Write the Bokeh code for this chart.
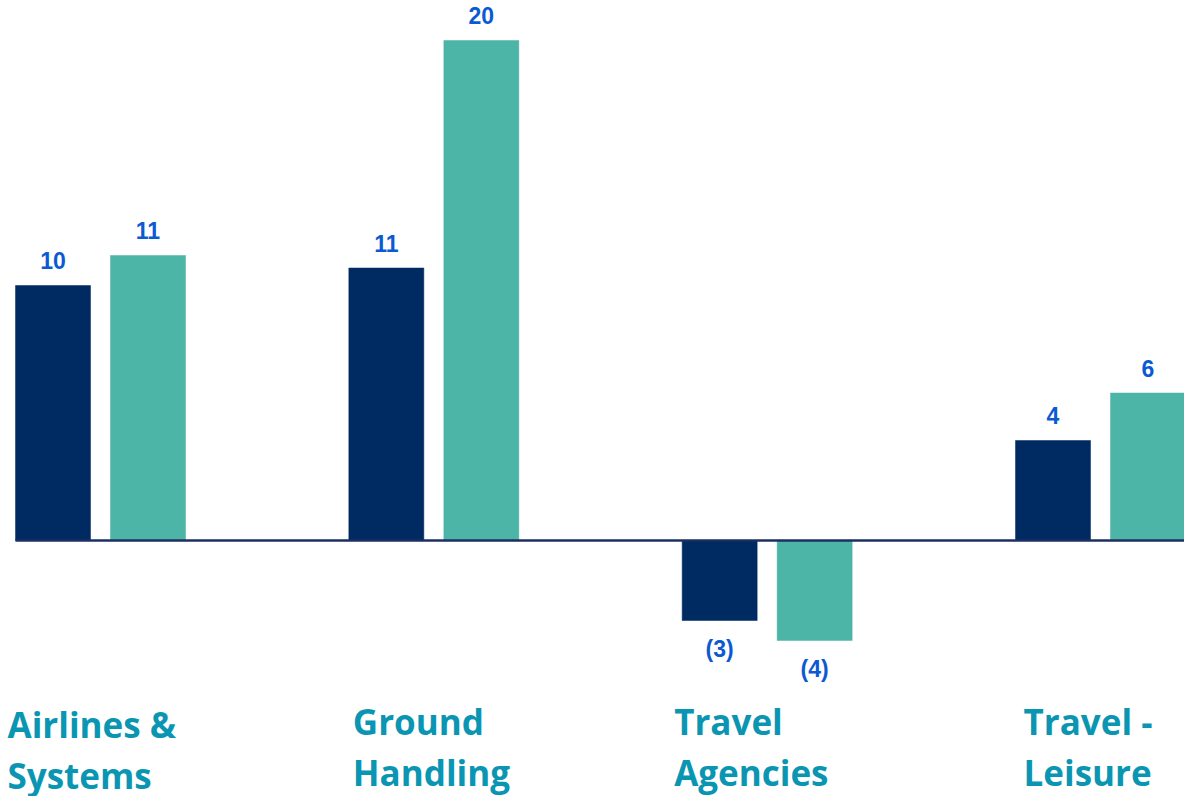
from bokeh.plotting import figure
from bokeh.models import Range1d, ColumnDataSource
from bokeh.core.properties import value
from bokeh.embed import file_html
from bokeh.resources import INLINE

# ---- data ----
categories = ["Airlines &\nSystems", "Ground\nHandling", "Travel\nAgencies", "Travel -\nLeisure"]
series1_values = [10.2, 10.9, -3.2, 4.0]
series2_values = [11.4, 20.0, -4.0, 5.9]
series1_labels = ["10", "11", "(3)", "4"]
series2_labels = ["11", "20", "(4)", "6"]

NAVY = "#002A62"
TEAL = "#4CB5A7"
LABEL_BLUE = "#0B5AD2"
CAT_TEAL = "#0A96B2"

idx = list(range(len(categories)))
bar_w = 0.225
off = 0.1425
cat_label_dx = [-3, 9, -3, 13]   # small pixel nudges of the category captions
cat_label_dy = [3, 0, 0, 0]

p = figure(width=1184, height=796, output_backend="svg", toolbar_location=None,
           x_range=Range1d(-0.3, 3.252), y_range=Range1d(-10.24, 21.6),
           min_border=0, min_border_left=0, min_border_right=0,
           min_border_top=0, min_border_bottom=0)
p.axis.visible = False
p.grid.visible = False
p.outline_line_color = None
p.background_fill_color = "white"
p.border_fill_color = "white"

def src(vals, labels, shift):
    return ColumnDataSource(dict(
        x=[i + shift for i in idx],
        top=[max(v, 0) for v in vals],
        bottom=[min(v, 0) for v in vals],
        v=vals,
        lab=labels,
    ))

s1 = src(series1_values, series1_labels, -off)
s2 = src(series2_values, series2_labels, off)

p.vbar(x="x", width=bar_w, top="top", bottom="bottom", source=s1,
       fill_color=NAVY, line_color=NAVY, line_width=0.5)
p.vbar(x="x", width=bar_w, top="top", bottom="bottom", source=s2,
       fill_color=TEAL, line_color=TEAL, line_width=0.5)

# baseline
p.segment(x0=[-0.255], y0=[0], x1=[3.3], y1=[0], line_color="#1B2F60", line_width=2.5)

# value labels
for vals, labels, shift in [(series1_values, series1_labels, -off),
                            (series2_values, series2_labels, off)]:
    pos_x = [i + shift for i, v in zip(idx, vals) if v >= 0]
    pos_y = [v for v in vals if v >= 0]
    pos_t = [l for v, l in zip(vals, labels) if v >= 0]
    neg_x = [i + shift for i, v in zip(idx, vals) if v < 0]
    neg_y = [v for v in vals if v < 0]
    neg_t = [l for v, l in zip(vals, labels) if v < 0]
    p.text(x=pos_x, y=pos_y, text=pos_t, y_offset=-25,
           text_align="center", text_baseline="middle",
           text_font=value("Liberation Sans"), text_font_style="bold",
           text_font_size="23px", text_color=LABEL_BLUE)
    p.text(x=neg_x, y=neg_y, text=neg_t, y_offset=28,
           text_align="center", text_baseline="middle",
           text_font=value("Liberation Sans"), text_font_style="bold",
           text_font_size="23px", text_color=LABEL_BLUE)

# category labels
line1 = [c.split("\n")[0] for c in categories]
line2 = [c.split("\n")[1] for c in categories]
for lines, yv in [(line1, -7.24), (line2, -9.26)]:
    cs = ColumnDataSource(dict(x=[i - 0.27 for i in idx], y=[yv] * len(idx),
                               t=lines, dx=cat_label_dx, dy=cat_label_dy))
    p.text(x="x", y="y", text="t", x_offset="dx", y_offset="dy", source=cs,
           text_align="left", text_baseline="alphabetic",
           text_font=value("Open Sans"), text_font_style="bold",
           text_font_size="35px", text_color=CAT_TEAL)

open("out.html", "w").write(file_html(p, INLINE))
